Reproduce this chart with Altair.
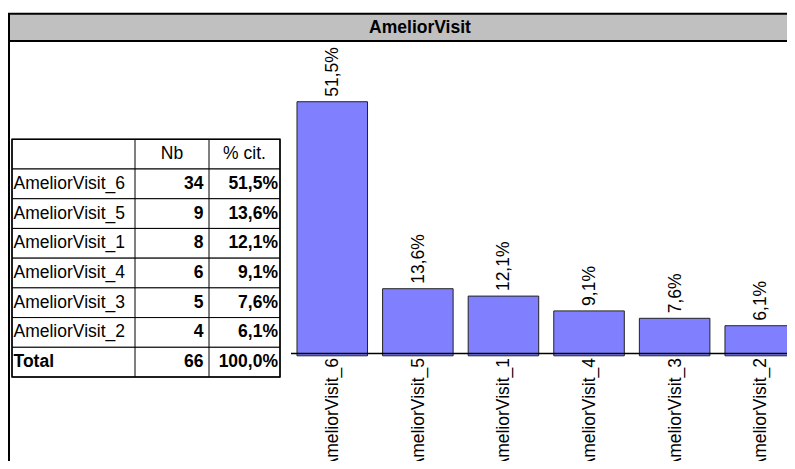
import altair as alt
import pandas as pd

# ---- data ----
TITLE = "AmeliorVisit"
CATEGORIES = ["AmeliorVisit_6", "AmeliorVisit_5", "AmeliorVisit_1",
              "AmeliorVisit_4", "AmeliorVisit_3", "AmeliorVisit_2"]
COUNTS = [34, 9, 8, 6, 5, 4]
PERCENTS = [51.5, 13.6, 12.1, 9.1, 7.6, 6.1]
HEADER_LABELS = ["Nb", "% cit."]
TOTAL_LABEL = "Total"
TOTAL_COUNT = 66
TOTAL_PERCENT = 100.0


def fr(p):
    return f"{p:.1f}".replace(".", ",") + "%"


FONT = "Liberation Sans"
FS = 17.5

bars_df = pd.DataFrame({"cat": CATEGORIES, "pct": PERCENTS,
                        "label": [fr(p) for p in PERCENTS]})
HEADER_KEY = " "
row_keys = [HEADER_KEY] + CATEGORIES + [TOTAL_LABEL]
cells_df = pd.DataFrame({"row": row_keys})
cat_rows_df = pd.DataFrame({"row": CATEGORIES, "label": CATEGORIES})
total_df = pd.DataFrame({"row": [TOTAL_LABEL], "label": [TOTAL_LABEL]})
num_df = pd.DataFrame({"row": CATEGORIES + [TOTAL_LABEL],
                       "nb": COUNTS + [TOTAL_COUNT],
                       "pct": [fr(p) for p in PERCENTS + [TOTAL_PERCENT]]})
hdr_nb = pd.DataFrame({"row": [HEADER_KEY], "t": [HEADER_LABELS[0]]})
hdr_pct = pd.DataFrame({"row": [HEADER_KEY], "t": [HEADER_LABELS[1]]})
title_df = pd.DataFrame({"t": [TITLE]})
one = pd.DataFrame({"k": [0]})

# ---- scales ----
row_y = alt.Y("row:N", sort=row_keys,
              scale=alt.Scale(type="band", domain=row_keys, range=[131.3, 369],
                              paddingInner=0, paddingOuter=0),
              axis=None)
bx = alt.X("cat:N", sort=CATEGORIES,
           scale=alt.Scale(type="band", domain=CATEGORIES, range=[283, 787.5],
                           paddingInner=0.176, paddingOuter=0.035, align=1),
           axis=None)
by = alt.Y("pct:Q", scale=alt.Scale(domain=[0, 60], range=[347.8, 51.8]), axis=None)

# ---- frame ----
title_bar = alt.Chart(one).mark_rect(fill="#C0C0C0", stroke="black", strokeWidth=2).encode(
    x=alt.value(1), x2=alt.value(840), y=alt.value(5.7), y2=alt.value(33))
title_txt = alt.Chart(title_df).mark_text(font=FONT, fontSize=FS, fontWeight="bold",
                                          align="center", baseline="middle", color="black").encode(
    x=alt.value(412), y=alt.value(19.5), text="t:N")
left_line = alt.Chart(one).mark_rule(color="black", strokeWidth=2).encode(
    x=alt.value(1), y=alt.value(5.7), y2=alt.value(480))

# ---- table ----
cells = alt.Chart(cells_df).mark_rect(fill="white", stroke="black", strokeWidth=1).encode(
    y=row_y, x=alt.value(4), x2=alt.value(272))
col1 = alt.Chart(one).mark_rule(color="black", strokeWidth=1).encode(
    x=alt.value(127), y=alt.value(131.3), y2=alt.value(369))
col2 = alt.Chart(one).mark_rule(color="black", strokeWidth=1).encode(
    x=alt.value(201), y=alt.value(131.3), y2=alt.value(369))
outer = alt.Chart(one).mark_rect(fill=None, stroke="black", strokeWidth=1.5).encode(
    x=alt.value(4), x2=alt.value(272), y=alt.value(131.3), y2=alt.value(369))

txt = dict(font=FONT, fontSize=FS, baseline="middle", color="black")
cat_txt = alt.Chart(cat_rows_df).mark_text(align="left", **txt).encode(
    y=row_y, x=alt.value(5.5), text="label:N")
tot_txt = alt.Chart(total_df).mark_text(align="left", fontWeight="bold", **txt).encode(
    y=row_y, x=alt.value(5.5), text="label:N")
nb_txt = alt.Chart(num_df).mark_text(align="right", fontWeight="bold", **txt).encode(
    y=row_y, x=alt.value(195.5), text="nb:N")
pct_txt = alt.Chart(num_df).mark_text(align="right", fontWeight="bold", **txt).encode(
    y=row_y, x=alt.value(270), text="pct:N")
h1 = alt.Chart(hdr_nb).mark_text(align="center", **txt).encode(
    y=row_y, x=alt.value(164), text="t:N")
h2 = alt.Chart(hdr_pct).mark_text(align="center", **txt).encode(
    y=row_y, x=alt.value(236.5), text="t:N")

# ---- bars ----
bars = alt.Chart(bars_df).mark_bar(color="#8080FF", stroke="#222222", strokeWidth=1).encode(
    x=bx, y=by, y2=alt.value(345.5))
base = alt.Chart(one).mark_rule(color="black", strokeWidth=1.5).encode(
    x=alt.value(283), x2=alt.value(840), y=alt.value(345.5))
vlab = alt.Chart(bars_df).mark_text(angle=270, align="left", baseline="middle", dx=5, dy=1,
                                    font=FONT, fontSize=FS, color="black").encode(
    x=bx, y=by, text="label:N")
clab = alt.Chart(bars_df).mark_text(angle=270, align="right", baseline="middle", dy=1,
                                    font=FONT, fontSize=FS, color="black").encode(
    x=bx, y=alt.value(350), text="cat:N")

chart = alt.layer(
    title_bar, title_txt, left_line,
    cells, col1, col2, outer,
    cat_txt, tot_txt, nb_txt, pct_txt, h1, h2,
    bars, base, vlab, clab,
).resolve_scale(x="independent", y="independent").properties(
    width=779, height=453,
    autosize=alt.AutoSizeParams(type="none"),
    padding=0,
    background="white",
).configure_view(stroke=None)

chart.save("out.html", embed_options={"renderer": "svg", "actions": False})
